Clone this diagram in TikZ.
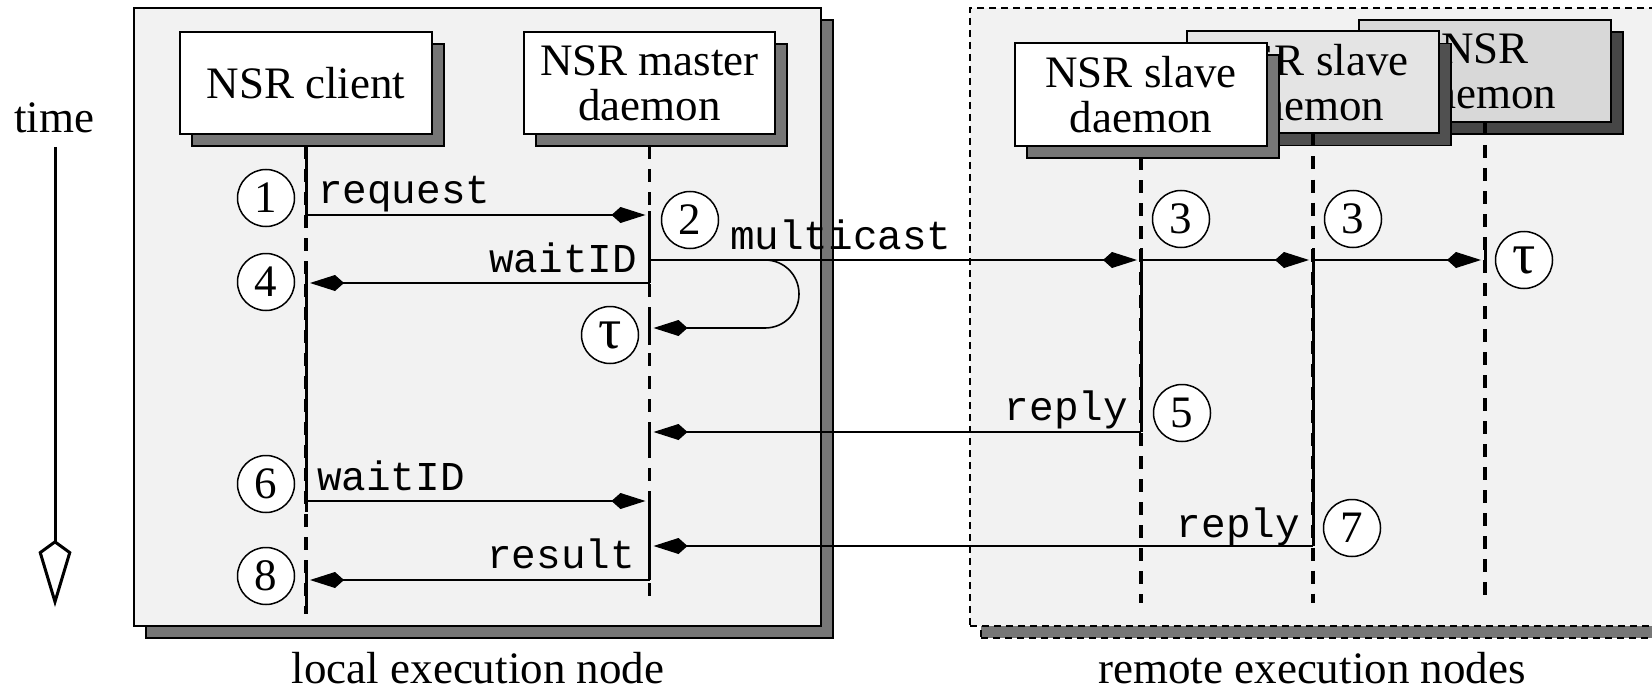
\documentclass[tikz,border=0pt]{standalone}
\usepackage{fontspec}
\setmainfont{Liberation Serif}
\setmonofont{Liberation Mono}
\usetikzlibrary{arrows.meta,calc,shadows}

\definecolor{panel}{HTML}{F2F2F2}
\definecolor{shadeA}{HTML}{767676}
\definecolor{shadeB}{HTML}{505050}
\definecolor{shadeC}{HTML}{464646}
\definecolor{fillB}{HTML}{E4E4E4}
\definecolor{fillC}{HTML}{D8D8D8}

\newcommand{\serifbig}{\fontsize{45}{45}\selectfont}
\newcommand{\monolab}{\fontsize{41}{41}\selectfont\ttfamily}
\newcommand{\taumark}{{\fontsize{58}{58}\selectfont τ}}

\begin{document}
\begin{tikzpicture}[x=1pt,y=-1pt,
  every node/.style={inner sep=0pt,outer sep=0pt},
  panelbox/.style={draw=black,line width=2pt,fill=panel,
    general shadow={shadow xshift=12pt,shadow yshift=-12pt,fill=shadeA,draw=black,line width=1.5pt}},
  remotebox/.style={draw=black,line width=1.5pt,fill=panel,dash pattern=on 7pt off 5pt,
    general shadow={shadow xshift=11pt,shadow yshift=-12pt,fill=shadeA,draw=black,line width=1.5pt,dash pattern=on 7pt off 5pt}},
  actor/.style={draw=black,line width=2pt,align=center,font=\serifbig,
    minimum width=252pt,minimum height=102pt},
  actorshadow/.style={general shadow={shadow xshift=12pt,shadow yshift=-12pt,fill=#1,draw=black,line width=1.5pt}},
  lifeline/.style={line width=3.3pt,dash pattern=on 13pt off 10pt},
  active/.style={line width=3pt},
  msg/.style={line width=1.6pt,-{Kite[length=34pt,width=16pt,inset=9pt]},shorten >=4pt},
  num/.style={circle,draw=black,line width=1.5pt,fill=white,minimum size=57pt,font=\serifbig},
  lab/.style={font=\monolab},
  caption/.style={font=\serifbig,anchor=base}
]
\useasboundingbox (0,0) rectangle (1652,690);
\clip (0,0) rectangle (1652,690);

% execution node panels
\node[panelbox,minimum width=687pt,minimum height=618pt] (localnode) at (477.5,317) {};
\node[remotebox,minimum width=760pt,minimum height=618pt] (remotenode) at (1350,317) {};

% process boxes
\node[actor,fill=white,actorshadow=shadeA] (client) at (306,83) {NSR client};
\node[actor,fill=white,actorshadow=shadeA,minimum width=251pt] (master) at (649.5,83) {NSR master\\daemon};
\node[actor,fill=fillC,actorshadow=shadeC] (slaveC) at (1485,71) {NSR\\daemon};
\node[actor,fill=fillB,actorshadow=shadeB] (slaveB) at (1313,82.5) {NSR slave\\daemon};
\node[actor,fill=white,actorshadow=shadeA,minimum height=103pt] (slaveA) at (1141,94.5) {NSR slave\\daemon};

% time axis
\node[caption] (timelabel) at (54,133) {time};
\coordinate (timetop) at (55,147);
\coordinate (timeend) at (55,607);
\draw[line width=3pt,-{Kite[open,fill=white,length=67pt,width=33pt,inset=12pt]}] (timetop) -- (timeend);

% event points on the lifelines
\coordinate (cReq)    at (client.south |- 0,215);
\coordinate (mReq)    at (master.south |- 0,215);
\coordinate (mWait)   at (master.south |- 0,283);
\coordinate (cWait)   at (client.south |- 0,283);
\coordinate (mCast)   at (master.south |- 0,260);
\coordinate (aCast)   at (slaveA.south |- 0,260);
\coordinate (bCast)   at (slaveB.south |- 0,260);
\coordinate (cCast)   at (slaveC.south |- 0,260);
\coordinate (mTau)    at (master.south |- 0,328);
\coordinate (aReply)  at (slaveA.south |- 0,432);
\coordinate (mReplyA) at (master.south |- 0,432);
\coordinate (cWait2)  at (client.south |- 0,501);
\coordinate (mWait2)  at (master.south |- 0,501);
\coordinate (bReply)  at (slaveB.south |- 0,546);
\coordinate (mReplyB) at (master.south |- 0,546);
\coordinate (mResult) at (master.south |- 0,580);
\coordinate (cResult) at (client.south |- 0,580);

% lifelines: idle (dashed) with active stretches drawn solid
\draw[lifeline] (client.south |- 0,146) -- (client.south |- 0,614);
\draw[active] (client.south |- 0,146) -- (cReq);
\draw[active] (client.south |- 0,273) -- (client.south |- 0,512);
\draw[active] (client.south |- 0,570) -- (client.south |- 0,614);

\draw[lifeline] (master.south |- 0,146) -- (master.south |- 0,603);
\draw[active] (master.south |- 0,211) -- (mWait);
\draw[active] (master.south |- 0,318) -- (master.south |- 0,345);
\draw[active] (master.south |- 0,422) -- (master.south |- 0,446);
\draw[active] (master.south |- 0,494) -- (mResult);

\draw[lifeline] (slaveA.south |- 0,157) -- (slaveA.south |- 0,603);
\draw[active] (slaveA.south |- 0,248) -- (aReply);

\draw[lifeline] (slaveB.south) -- (slaveB.south |- 0,603);
\draw[active] (slaveB.south |- 0,248) -- (bReply);

\draw[lifeline] (slaveC.south) -- (slaveC.south |- 0,603);
\draw[active] (slaveC.south |- 0,247) -- (slaveC.south |- 0,273);

% messages
\draw[msg] (cReq) -- (mReq);
\draw[msg] (mWait) -- (cWait);
\draw[msg] (mCast) -- (aCast);
\draw[msg] (aCast) -- (bCast);
\draw[msg] (bCast) -- (cCast);
\draw[msg] (mCast) -- (765,260) .. controls (784,260) and (799,275) .. (799,294)
  .. controls (799,313) and (784,328) .. (765,328) -- (mTau);
\draw[msg] (aReply) -- (mReplyA);
\draw[msg] (cWait2) -- (mWait2);
\draw[msg] (bReply) -- (mReplyB);
\draw[msg] (mResult) -- (cResult);

% message labels
\node[lab,anchor=base west] (lReq) at (318,203) {request};
\node[lab,anchor=base east] (lWait) at (637,272) {waitID};
\node[lab,anchor=base west] (lCast) at (730,249) {multicast};
\node[lab,anchor=base east] (lReplyA) at (1128,420) {reply};
\node[lab,anchor=base west] (lWait2) at (317,490) {waitID};
\node[lab,anchor=base east] (lReplyB) at (1300,537) {reply};
\node[lab,anchor=base east] (lResult) at (635,568) {result};

% step markers
\node[num] (n1) at (266,198) {1};
\node[num] (n2) at (690,220) {2};
\node[num] (n3a) at (1181,219) {3};
\node[num] (n3b) at (1353,219) {3};
\node[num] (n4) at (266,282) {4};
\node[num] (tauL) at (610,335) {\taumark};
\node[num] (tauR) at (1524,260) {\taumark};
\node[num] (n5) at (1182,413) {5};
\node[num] (n6) at (266,484) {6};
\node[num] (n7) at (1352,528) {7};
\node[num] (n8) at (266,576) {8};

% panel captions
\node[caption] (localcap) at (478,683) {local execution node};
\node[caption] (remotecap) at (1312,683) {remote execution nodes};
\end{tikzpicture}
\end{document}
